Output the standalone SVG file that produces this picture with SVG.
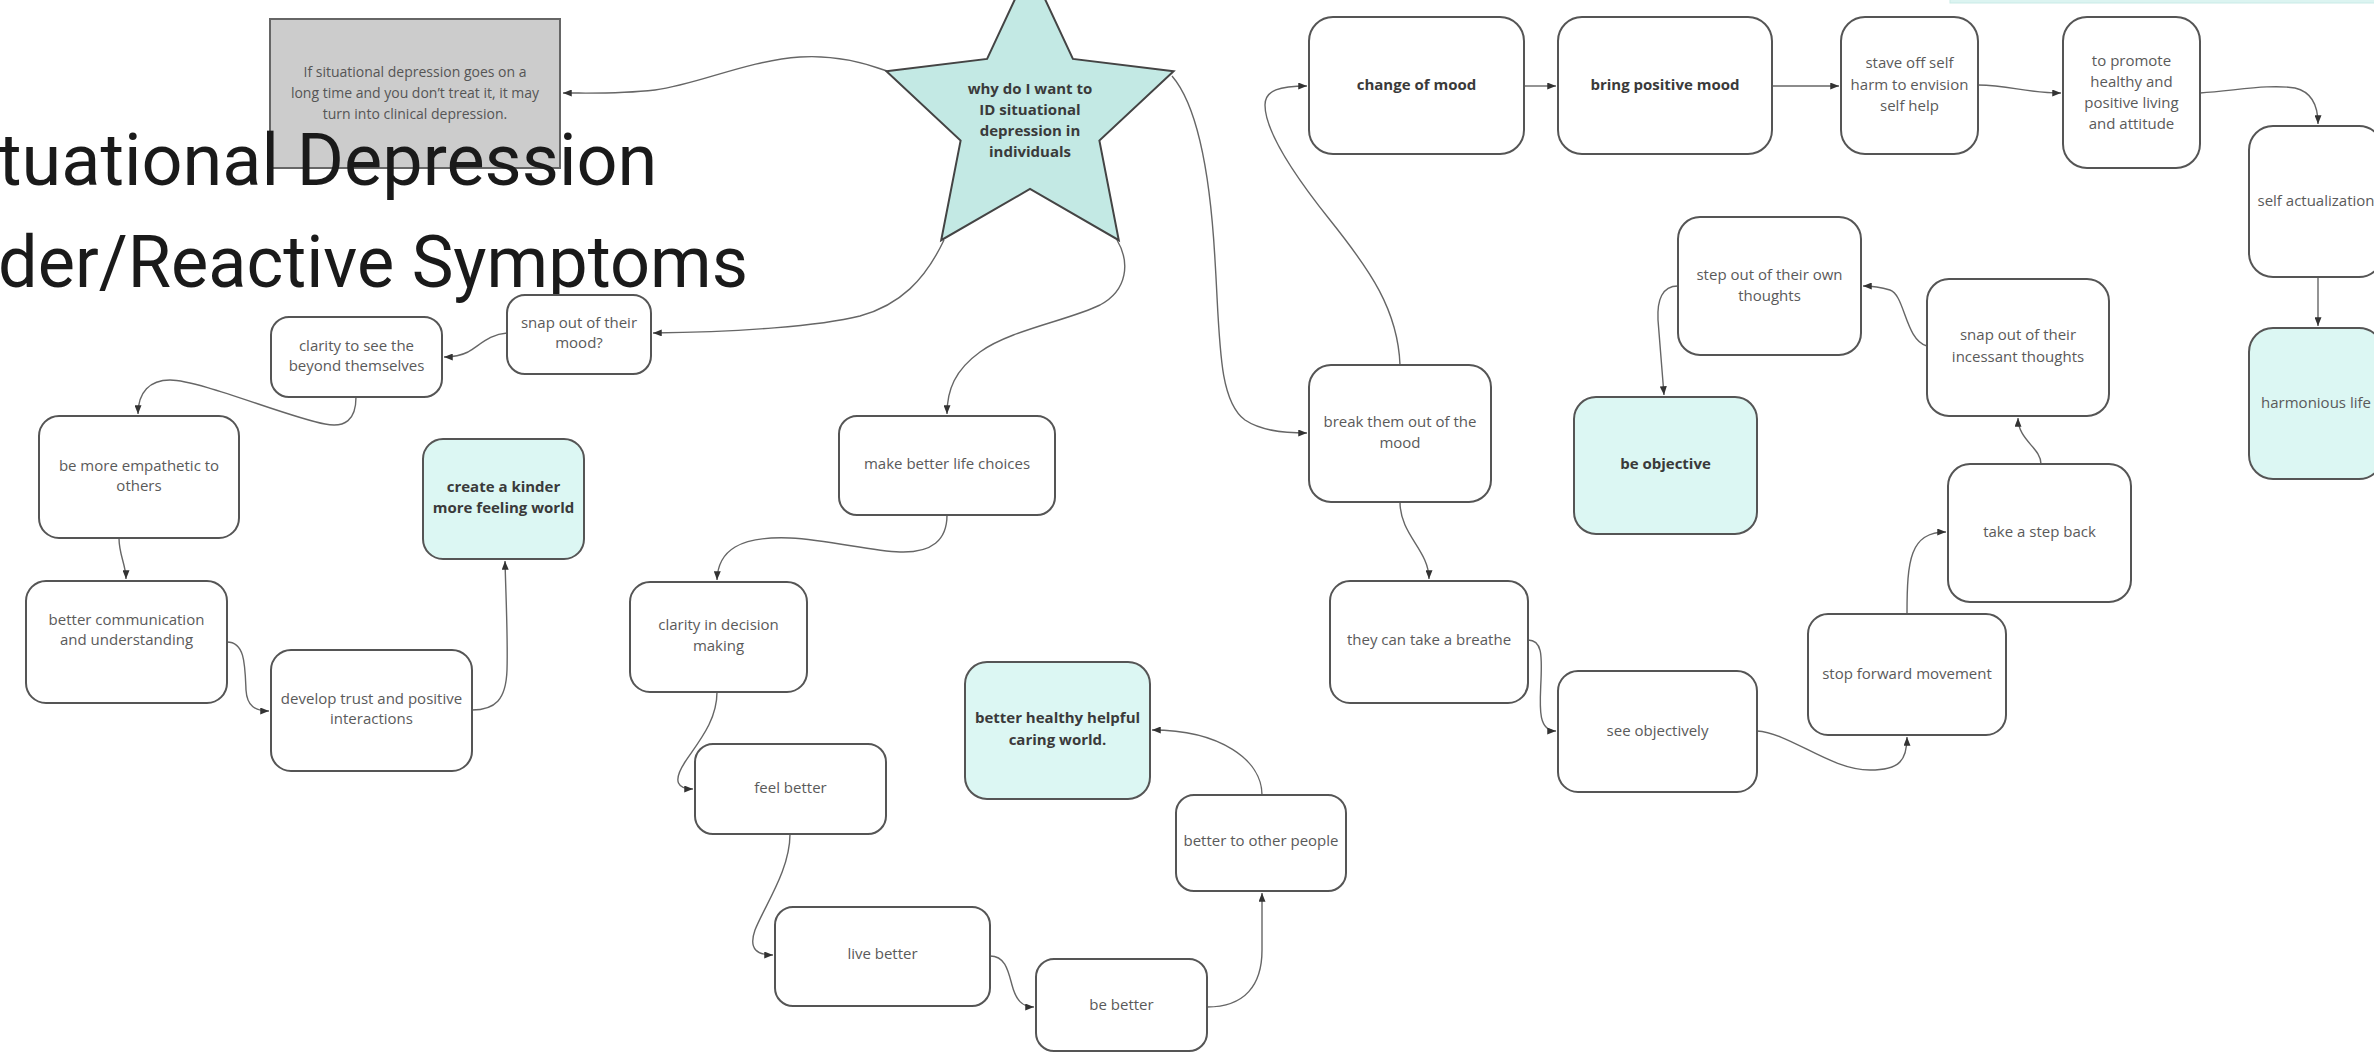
<svg xmlns="http://www.w3.org/2000/svg" width="2374" height="1052" viewBox="0 0 2374 1052">
<defs>
<marker id="arr" viewBox="0 0 10 8" refX="10" refY="4" markerWidth="9" markerHeight="7" markerUnits="userSpaceOnUse" orient="auto">
<path d="M0,0 L10,4 L0,8 Z" fill="#333"/>
</marker>
<style>
.box{fill:#ffffff;stroke:#555;stroke-width:2}
.teal{fill:#dcf7f3;stroke:#555;stroke-width:2}
.t{font-family:"Open Sans","Liberation Sans",sans-serif;font-size:15px;fill:#5a5a5a;text-anchor:middle}
.n{font-family:"Open Sans","Liberation Sans",sans-serif;font-size:14px;fill:#555;text-anchor:middle}
.b{font-family:"Open Sans","Liberation Sans",sans-serif;font-size:15px;font-weight:bold;fill:#3a3a3a;text-anchor:middle}
.c{fill:none;stroke:#666;stroke-width:1.4;marker-end:url(#arr)}
.title{font-family:Roboto,"Liberation Sans",sans-serif;font-size:72px;fill:#1a1a1a}
</style>
</defs>
<rect width="2374" height="1052" fill="#ffffff"/>

<g id="top-right-bar"><rect x="1950" y="-20" width="440" height="23" fill="#dcf4f1" stroke="#c9ebe6" stroke-width="1"/></g>

<g id="connectors">
<path class="c" d="M887,71 C860,61 830,55 800,57 C745,61 700,84 655,90 C620,94 595,93 563,93"/>
<path class="c" d="M944,240 C925,280 900,305 860,316 C820,326 740,332 653,333"/>
<path class="c" d="M1117,240 C1130,262 1128,290 1100,305 C1070,320 1010,330 980,352 C955,370 947,390 947,414"/>
<path class="c" d="M1172,76 C1197,105 1210,170 1215,260 C1220,340 1218,400 1245,420 C1260,430 1280,433 1307,433"/>
<path class="c" d="M507,333 C490,334 480,345 468,352 C460,356 452,357 444,357"/>
<path class="c" d="M356,397 C356,420 345,428 325,424 C290,418 200,380 170,380 C150,380 138,392 138,414"/>
<path class="c" d="M119,538 C119,555 126,565 126,579"/>
<path class="c" d="M227,642 C245,642 245,665 246,690 C247,706 255,711 269,711"/>
<path class="c" d="M472,710 C495,710 506,700 507,670 C508,640 506,600 505,561"/>
<path class="c" d="M947,515 C947,540 932,553 900,552 C870,551 830,540 790,538 C740,536 718,550 717,580"/>
<path class="c" d="M717,692 C717,720 700,740 685,762 C672,782 678,789 693,789"/>
<path class="c" d="M790,834 C790,870 765,905 755,930 C748,950 758,955 773,955"/>
<path class="c" d="M990,956 C1005,956 1008,970 1012,985 C1016,1000 1022,1007 1034,1007"/>
<path class="c" d="M1207,1007 C1245,1007 1262,985 1262,950 L1262,893"/>
<path class="c" d="M1262,795 C1262,760 1220,730 1152,730"/>
<path class="c" d="M1400,365 C1398,310 1370,270 1330,220 C1290,170 1265,130 1265,105 C1265,90 1280,86 1307,86"/>
<path class="c" d="M1524,86 L1556,86"/>
<path class="c" d="M1772,86 L1839,86"/>
<path class="c" d="M1978,85 C2010,85 2025,93 2061,93"/>
<path class="c" d="M2200,93 C2240,90 2270,84 2295,88 C2312,92 2318,105 2318,124"/>
<path class="c" d="M2318,277 L2318,326"/>
<path class="c" d="M1400,502 C1400,535 1429,550 1429,579"/>
<path class="c" d="M1528,640 C1542,640 1542,655 1541,680 C1540,705 1537,731 1556,731"/>
<path class="c" d="M1757,731 C1790,733 1830,770 1870,770 C1900,770 1907,760 1907,737"/>
<path class="c" d="M1907,614 C1907,560 1910,532 1946,532"/>
<path class="c" d="M2041,464 C2041,448 2018,440 2018,418"/>
<path class="c" d="M1927,346 C1905,340 1905,295 1890,290 C1880,287 1872,286 1863,286"/>
<path class="c" d="M1678,286 C1662,286 1657,300 1658,320 L1664,395"/>
</g>

<g id="gray-note">
<rect x="270" y="19" width="290" height="149" fill="#cccccc" stroke="#666" stroke-width="2"/>
<text class="n" x="415" y="77">If situational depression goes on a</text>
<text class="n" x="415" y="98">long time and you don’t treat it, it may</text>
<text class="n" x="415" y="119">turn into clinical depression.</text>
</g>

<g id="title">
<text class="title" x="-2" y="185">tuational Depression</text>
<text class="title" x="-2" y="287" textLength="750" lengthAdjust="spacingAndGlyphs">der/Reactive Symptoms</text>
</g>

<g id="star">
<polygon points="1030,-33 1072.9,58.9 1173.6,71.3 1099.4,140.6 1118.8,240.2 1030,189 941.2,240.2 960.6,140.6 886.4,71.3 987.1,58.9" fill="#c3e9e4" stroke="#444" stroke-width="2"/>
<text class="b" x="1030" y="94">why do I want to</text>
<text class="b" x="1030" y="115">ID situational</text>
<text class="b" x="1030" y="136">depression in</text>
<text class="b" x="1030" y="157">individuals</text>
</g>

<g id="n-snap-mood"><rect class="box" x="507" y="295" width="144" height="79" rx="18"/>
<text class="t" x="579" y="328">snap out of their</text><text class="t" x="579" y="348">mood?</text></g>
<g id="n-clarity-see"><rect class="box" x="271" y="317" width="171" height="80" rx="18"/>
<text class="t" x="356.5" y="351">clarity to see the</text><text class="t" x="356.5" y="371">beyond themselves</text></g>
<g id="n-empathetic"><rect class="box" x="39" y="416" width="200" height="122" rx="20"/>
<text class="t" x="139" y="471">be more empathetic to</text><text class="t" x="139" y="491">others</text></g>
<g id="n-communication"><rect class="box" x="26" y="581" width="201" height="122" rx="20"/>
<text class="t" x="126.5" y="625">better communication</text><text class="t" x="126.5" y="645">and understanding</text></g>
<g id="n-trust"><rect class="box" x="271" y="650" width="201" height="121" rx="20"/>
<text class="t" x="371.5" y="704">develop trust and positive</text><text class="t" x="371.5" y="724">interactions</text></g>
<g id="n-kinder"><rect class="teal" x="423" y="439" width="161" height="120" rx="20"/>
<text class="b" x="503.5" y="492">create a kinder</text><text class="b" x="503.5" y="513">more feeling world</text></g>

<g id="n-life-choices"><rect class="box" x="839" y="416" width="216" height="99" rx="18"/>
<text class="t" x="947" y="469">make better life choices</text></g>
<g id="n-clarity-decision"><rect class="box" x="630" y="582" width="177" height="110" rx="20"/>
<text class="t" x="718.5" y="630">clarity in decision</text><text class="t" x="718.5" y="651">making</text></g>
<g id="n-feel"><rect class="box" x="695" y="744" width="191" height="90" rx="18"/>
<text class="t" x="790.5" y="793">feel better</text></g>
<g id="n-live"><rect class="box" x="775" y="907" width="215" height="99" rx="18"/>
<text class="t" x="882.5" y="959">live better</text></g>
<g id="n-be-better"><rect class="box" x="1036" y="959" width="171" height="92" rx="18"/>
<text class="t" x="1121.5" y="1010">be better</text></g>
<g id="n-other-people"><rect class="box" x="1176" y="795" width="170" height="96" rx="18"/>
<text class="t" x="1261" y="846">better to other people</text></g>
<g id="n-caring"><rect class="teal" x="965" y="662" width="185" height="137" rx="22"/>
<text class="b" x="1057.5" y="723">better healthy helpful</text><text class="b" x="1057.5" y="745">caring world.</text></g>

<g id="n-break"><rect class="box" x="1309" y="365" width="182" height="137" rx="22"/>
<text class="t" x="1400" y="427">break them out of the</text><text class="t" x="1400" y="448">mood</text></g>
<g id="n-breathe"><rect class="box" x="1330" y="581" width="198" height="122" rx="20"/>
<text class="t" x="1429" y="645">they can take a breathe</text></g>
<g id="n-see-objectively"><rect class="box" x="1558" y="671" width="199" height="121" rx="20"/>
<text class="t" x="1657.5" y="736">see objectively</text></g>
<g id="n-stop"><rect class="box" x="1808" y="614" width="198" height="121" rx="20"/>
<text class="t" x="1907" y="679">stop forward movement</text></g>
<g id="n-step-back"><rect class="box" x="1948" y="464" width="183" height="138" rx="22"/>
<text class="t" x="2039.5" y="537">take a step back</text></g>
<g id="n-snap-incessant"><rect class="box" x="1927" y="279" width="182" height="137" rx="22"/>
<text class="t" x="2018" y="340">snap out of their</text><text class="t" x="2018" y="362">incessant thoughts</text></g>
<g id="n-step-out"><rect class="box" x="1678" y="217" width="183" height="138" rx="22"/>
<text class="t" x="1769.5" y="280">step out of their own</text><text class="t" x="1769.5" y="301">thoughts</text></g>
<g id="n-be-objective"><rect class="teal" x="1574" y="397" width="183" height="137" rx="22"/>
<text class="b" x="1665.5" y="469">be objective</text></g>

<g id="n-change-mood"><rect class="box" x="1309" y="17" width="215" height="137" rx="24"/>
<text class="b" x="1416.5" y="90">change of mood</text></g>
<g id="n-positive-mood"><rect class="box" x="1558" y="17" width="214" height="137" rx="24"/>
<text class="b" x="1665" y="90">bring positive mood</text></g>
<g id="n-stave"><rect class="box" x="1841" y="17" width="137" height="137" rx="24"/>
<text class="t" x="1909.5" y="68">stave off self</text><text class="t" x="1909.5" y="90">harm to envision</text><text class="t" x="1909.5" y="111">self help</text></g>
<g id="n-promote"><rect class="box" x="2063" y="17" width="137" height="151" rx="24"/>
<text class="t" x="2131.5" y="66">to promote</text><text class="t" x="2131.5" y="87">healthy and</text><text class="t" x="2131.5" y="108">positive living</text><text class="t" x="2131.5" y="129">and attitude</text></g>
<g id="n-self-actualization"><rect class="box" x="2249" y="126" width="134" height="151" rx="24"/>
<text class="t" x="2316" y="206">self actualization</text></g>
<g id="n-harmonious"><rect class="teal" x="2249" y="328" width="134" height="151" rx="24"/>
<text class="t" x="2316" y="408">harmonious life</text></g>
</svg>
